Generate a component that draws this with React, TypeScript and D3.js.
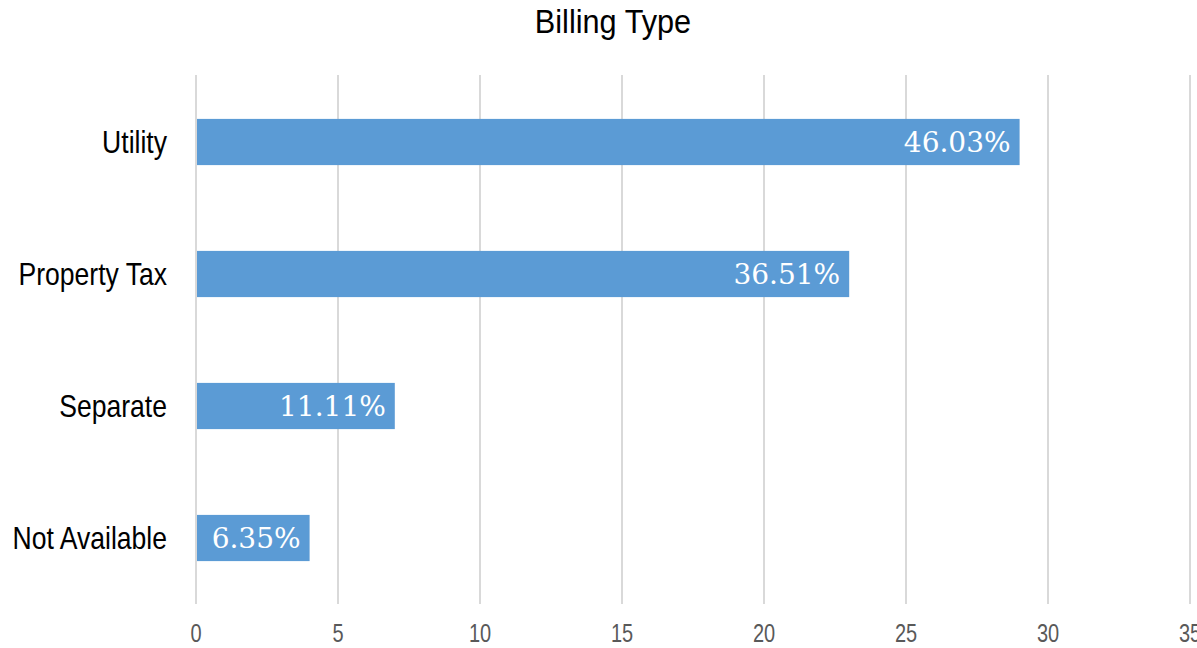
import React from "react";
import * as d3 from "d3";

const categories = ["Utility", "Property Tax", "Separate", "Not Available"];
const values = [29, 23, 7, 4];
const labels = ["46.03%", "36.51%", "11.11%", "6.35%"];
const ticks = [0, 5, 10, 15, 20, 25, 30, 35];

const W = 1197;
const H = 648;
const margin = { left: 196, right: 7, top: 76, bottom: 44 };
const sans = "'Liberation Sans', Arial, sans-serif";

export default function App() {
  const x = d3.scaleLinear().domain([0, 35]).range([margin.left, W - margin.right]);
  const y = d3
    .scaleBand<string>()
    .domain(categories)
    .range([margin.top, H - margin.bottom])
    .paddingInner(0.65)
    .paddingOuter(0.325);

  return (
    <svg
      width={W}
      height={H}
      style={{ position: "absolute", left: 0, top: 0, background: "#fff" }}
    >
      <text
        transform={`translate(613,33) scale(0.93,1)`}
        textAnchor="middle"
        fontFamily={sans}
        fontSize={33}
        fill="#000"
      >
        Billing Type
      </text>
      {ticks.map((t) => (
        <line
          key={"g" + t}
          x1={x(t)}
          x2={x(t)}
          y1={margin.top - 1}
          y2={H - margin.bottom}
          stroke="#d9d9d9"
          strokeWidth={2}
        />
      ))}
      {ticks.map((t) => (
        <text
          key={"t" + t}
          transform={`translate(${x(t)},642) scale(0.8,1)`}
          textAnchor="middle"
          fontFamily={sans}
          fontSize={25}
          fill="#595959"
        >
          {t}
        </text>
      ))}
      {categories.map((c, i) => (
        <g key={c}>
          <rect
            x={x(0) + 1}
            y={y(c)!}
            width={x(values[i]) - x(0) - 1}
            height={y.bandwidth()}
            fill="#5b9bd5"
          />
          <text
            x={x(values[i]) - 9}
            y={y(c)! + y.bandwidth() / 2 + 10}
            textAnchor="end"
            fontFamily="Georgia, 'DejaVu Serif', 'Liberation Serif', serif"
            fontSize={28}
            fill="#fff"
            style={{ fontVariantNumeric: "oldstyle-nums" }}
          >
            {labels[i]}
          </text>
          <text
            transform={`translate(167,${y(c)! + y.bandwidth() / 2 + 11}) scale(0.83,1)`}
            textAnchor="end"
            fontFamily={sans}
            fontSize={32}
            fill="#000"
          >
            {c}
          </text>
        </g>
      ))}
    </svg>
  );
}
